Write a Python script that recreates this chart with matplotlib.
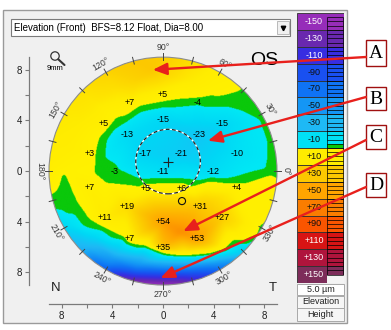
import numpy as np
import matplotlib
matplotlib.use("Agg")
import matplotlib.pyplot as plt
import matplotlib.tri as mtri
from matplotlib.colors import LinearSegmentedColormap, Normalize
from matplotlib.patches import Rectangle, Circle

plt.rcParams['font.family'] = ['Liberation Sans', 'DejaVu Sans']

# readings printed on the map: position in mm, elevation in µm
label_x = [0.0, -2.6, 2.75, -4.65, 0.0, 4.7, -2.85, 2.85, -5.75, -1.4, 1.45, 5.85,
           -3.85, 0.0, 3.95, -5.75, -1.35, 1.5, 5.85, -2.8, 2.9, -4.6, 0.05, 4.7,
           -2.6, 0.05, 2.7]
label_y = [6.05, 5.4, 5.4, 3.75, 4.1, 3.75, 2.85, 2.85, 1.35, 1.4, 1.4, 1.35,
           0.0, 0.0, 0.0, -1.3, -1.4, -1.4, -1.3, -2.8, -2.8, -3.7, -4.0, -3.7,
           -5.35, -6.0, -5.35]
label_val = [5, 7, -4, 5, -15, -15, -13, -23, 3, -17, -21, -10,
             -3, -11, -12, 7, 5, 6, 4, 19, 31, 11, 54, 27,
             7, 35, 53]

# where the colour changes from yellow to green (0 µm) ...
zero_x = [6.08, 2.92, 0.29, -1.82, -3.65, -4.97, -5.37, -4.44, -1.82, 2.13, 6.08, 8.45,
          -7.18, -6.7, -5.92, -4.58, -3.0, -1.42, 0.16, 1.74, 3.31, 4.89, 6.47, 7.5]
zero_y = [6.39, 5.86, 5.6, 5.21, 4.29, 2.71, -0.18, -0.97, -1.24, -1.24, -0.97, -0.18,
          -1.5, -2.53, -3.63, -4.42, -5.2, -5.84, -6.39, -6.63, -6.47, -6.08, -5.45, -5.05]
# ... and from green to cyan (-5 µm)
minus5_x = [-3.13, -1.82, 0.81, 3.45, 6.08, 7.66, 8.2, 8.2, 8.18, 6.08, 2.13, -1.82,
            -4.58, -4.44, -3.92,
            -8.52, -7.73, -6.16, -4.03, -1.97, 0.16, 1.74, 3.31, 4.89, 6.47, 7.81]
minus5_y = [3.76, 4.68, 5.07, 5.07, 4.81, 4.03, 2.45, 0.87, 0.08, -0.32, -0.58, -0.58,
            1.13, 2.45, 3.24,
            -2.45, -3.31, -4.42, -5.29, -6.08, -6.71, -6.79, -6.71, -6.39, -5.84, -5.21]

# values around the rim (r = 9.25 mm), every 15 degrees from 0
rim_angle = np.arange(0, 360, 15)
rim_val = [-2, -3, -3, -1, 6, 18, 28, 30, 24, 16, 12, 10,
           8, -2, -17, -40, -92, -155, -170, -135, -88, -25, -4, 5]

# ring r = 7.6 mm
ring76_angle = [45, 60, 75, 90, 105, 120, 135, 150, 165, 180,
                225, 240, 255, 270, 285, 300]
ring76_val = [-3, 3, 12, 22, 25, 17, 12, 10, 8, 2,
              -18, -32, -48, -55, -38, -5]

# ring r = 8.0 mm, lower part
ring80_angle = [225, 240, 255, 270, 285, 300, 315]
ring80_val = [-25, -48, -70, -85, -65, -22, -4]

# ring r = 8.4 mm, lower half
ring84_angle = [195, 210, 225, 240, 255, 270, 285, 300, 315, 330]
ring84_val = [-3, -10, -30, -58, -95, -110, -92, -48, -10, 3]

# a few more readings: orange crest at top, peak below centre, green tongue on the left
extra_x = [-0.8, 1.4, -7.73, -7.6, -7.6, -8.7, -8.6]
extra_y = [8.0, -4.8, -0.16, -1.2, -2.4, -1.0, 0.4]
extra_val = [30, 62, -1, -3, -4, 3, 6]

# colour scale (µm -> RGB)
scale_pts = [(-180, (135, 40, 170)), (-150, (150, 45, 185)), (-130, (105, 40, 175)),
             (-110, (55, 45, 225)), (-90, (25, 80, 240)), (-70, (15, 115, 245)),
             (-50, (20, 150, 245)), (-30, (30, 185, 245)), (-15, (0, 215, 245)),
             (-5, (0, 232, 245)), (-5, (10, 200, 10)), (0, (10, 200, 10)),
             (0, (255, 242, 0)), (10, (255, 236, 0)), (30, (252, 200, 0)),
             (50, (255, 165, 0)), (70, (250, 125, 0)), (90, (250, 85, 0)),
             (110, (215, 20, 20)), (130, (175, 20, 60)), (150, (125, 45, 90)),
             (180, (115, 45, 85))]
vmin, vmax = -180, 180
cmap = LinearSegmentedColormap.from_list(
    'elev', [((v - vmin) / (vmax - vmin), tuple(c / 255 for c in rgb)) for v, rgb in scale_pts],
    N=2048)
norm = Normalize(vmin, vmax)

box_centres = list(range(-150, 151, 20))


def polar(angles, r):
    a = np.deg2rad(np.asarray(angles, dtype=float))
    return r * np.cos(a), r * np.sin(a)


def smooth(Z, sigma_cells):
    # gaussian blur that ignores the empty cells outside the hull
    vals = Z.filled(np.nan) if np.ma.isMaskedArray(Z) else np.asarray(Z, float)
    ok = ~np.isnan(vals)
    n = int(3 * sigma_cells)
    k = np.exp(-0.5 * (np.arange(-n, n + 1) / sigma_cells) ** 2)
    k /= k.sum()

    def blur(a):
        a = np.apply_along_axis(lambda r: np.convolve(r, k, mode='same'), 0, a)
        return np.apply_along_axis(lambda r: np.convolve(r, k, mode='same'), 1, a)

    num = blur(np.where(ok, vals, 0.0))
    den = blur(ok.astype(float))
    out = np.where(ok, num / np.maximum(den, 1e-9), np.nan)
    return np.ma.masked_invalid(out)


def build_field():
    rings = [(rim_angle, 9.25, rim_val), (ring76_angle, 7.6, ring76_val),
             (ring80_angle, 8.0, ring80_val), (ring84_angle, 8.4, ring84_val)]
    xs = [np.asarray(label_x), np.asarray(zero_x), np.asarray(minus5_x), np.asarray(extra_x)]
    ys = [np.asarray(label_y), np.asarray(zero_y), np.asarray(minus5_y), np.asarray(extra_y)]
    vs = [np.asarray(label_val, float), np.zeros(len(zero_x)), np.full(len(minus5_x), -5.0),
          np.asarray(extra_val, float)]
    for ang, r, val in rings:
        px, py = polar(ang, r)
        xs.append(px)
        ys.append(py)
        vs.append(np.asarray(val, float))
    tri = mtri.Triangulation(np.concatenate(xs), np.concatenate(ys))
    interp = mtri.LinearTriInterpolator(tri, np.concatenate(vs))
    g = np.linspace(-9.2, 9.2, 369)
    X, Y = np.meshgrid(g, g)
    return smooth(interp(X, Y), 3)


fig = plt.figure(figsize=(3.91, 3.30), dpi=100)
fig.patch.set_facecolor('white')

# window background, pixel coordinates
bg = fig.add_axes([0, 0, 1, 1])
bg.set_xlim(0, 391)
bg.set_ylim(330, 0)
bg.axis('off')
bg.set_zorder(0)
bg.add_patch(Rectangle((3, 10), 344, 313, fc='#f0f0f0', ec='#9a9a9a', lw=1))
bg.add_patch(Rectangle((11, 19), 279, 17, fc='white', ec='#7a7a7a', lw=0.8))
bg.add_patch(Rectangle((277, 21), 12, 13, fc='#f0f0f0', ec='#b0b0b0', lw=0.6))
bg.plot([283], [28], marker='v', color='black', markersize=3.2)
bg.text(14, 28, 'Elevation (Front)  BFS=8.12 Float, Dia=8.00', fontsize=7, va='center')
# magnifier icon
bg.add_patch(Circle((55, 56), 4.2, fill=False, ec='#333333', lw=0.9))
bg.plot([58.3, 64.5], [59.3, 65], color='#333333', lw=1.5, solid_capstyle='round')
bg.text(55, 69, '9mm', fontsize=5.5, ha='center', va='center')
# info boxes under the scale
for y0, h, txt, fc in [(284, 11, '5.0 µm', 'white'), (296, 12, 'Elevation', '#f6f6f6'),
                       (308, 13, 'Height', '#f6f6f6')]:
    bg.add_patch(Rectangle((297, y0), 47, h, fc=fc, ec='#a8a8a8', lw=0.7))
    bg.text(320.5, y0 + h / 2, txt, fontsize=6.5, ha='center', va='center', color='#202020')

# map axes in mm
ax = fig.add_axes([11 / 391, 7 / 330, 285 / 391, 276 / 330])
ax.set_zorder(1)
ax.patch.set_visible(False)

Z = build_field()
im = ax.imshow(Z, extent=(-9.2, 9.2, -9.2, 9.2), origin='lower', cmap=cmap, norm=norm,
               interpolation='bilinear', aspect='auto', zorder=1)
rim = Circle((0, 0), 9.0, transform=ax.transData)
im.set_clip_path(rim)
ax.set_xlim(-12, 10.5)
ax.set_ylim(-12, 9.8)
ax.add_patch(Circle((0, 0), 9.0, fill=False, ec='#8c8c8c', lw=0.8, zorder=2))

# rim ticks every 15 degrees
tick_ang = np.deg2rad(np.arange(0, 360, 15))
for a in tick_ang:
    ax.plot([8.75 * np.cos(a), 9.3 * np.cos(a)], [8.75 * np.sin(a), 9.3 * np.sin(a)],
            color='#444444', lw=0.7, zorder=3)
for deg in range(0, 360, 30):
    a = np.deg2rad(deg)
    rot = deg - 90 if deg < 180 else deg - 270
    ax.text(9.75 * np.cos(a), 9.75 * np.sin(a), f'{deg}°', rotation=rot, fontsize=6.3,
            color='#3a3a3a', ha='center', va='center', rotation_mode='anchor')

# printed readings
for x, y, v in zip(label_x, label_y, label_val):
    ax.text(x, y, f'{v:+d}', fontsize=6.5, ha='center', va='center', zorder=4)

# pupil: centre cross, dashed outline, thinnest point marker
pupil_x, pupil_y, pupil_r = 0.4, 0.75, 2.55
ax.add_patch(Circle((pupil_x, pupil_y), pupil_r, fill=False, ec='white', lw=0.9, zorder=3))
ax.add_patch(Circle((pupil_x, pupil_y), pupil_r, fill=False, ec='#222222', lw=0.9,
                    ls=(0, (3, 2)), zorder=3))
ax.plot([pupil_x], [pupil_y], marker='+', color='#222222', markersize=7, mew=0.8, zorder=4)
ax.add_patch(Circle((1.5, -2.37), 0.28, fill=False, ec='#111111', lw=0.8, zorder=4))

ax.text(7.95, 8.75, 'OS', fontsize=14, ha='center', va='center')
ax.text(-8.5, -9.25, 'N', fontsize=9.5, ha='center', va='center', color='#222222')
ax.text(8.7, -9.25, 'T', fontsize=9.5, ha='center', va='center', color='#222222')

# mm axes
for s in ('top', 'right'):
    ax.spines[s].set_visible(False)
ax.spines['left'].set_position(('data', -10.58))
ax.spines['bottom'].set_position(('data', -10.5))
ax.spines['left'].set_bounds(-9, 9)
ax.spines['bottom'].set_bounds(-9, 9)
for s in ('left', 'bottom'):
    ax.spines[s].set_color('#7a7a7a')
    ax.spines[s].set_linewidth(0.9)
ticks = list(range(-8, 9, 2))
tick_text = [str(abs(t)) if t % 4 == 0 else '' for t in ticks]
ax.set_xticks(ticks)
ax.set_xticklabels(tick_text)
ax.set_yticks(ticks)
ax.set_yticklabels(tick_text)
ax.tick_params(direction='out', length=3, width=0.8, color='#7a7a7a', labelsize=7,
               labelcolor='#202020', pad=2)

# colour scale
cb = fig.add_axes([297 / 391, 47 / 330, 47 / 391, 270 / 330])
cb.set_xlim(0, 1)
cb.set_ylim(160, -160)
cb.axis('off')
for c in box_centres:
    cb.add_patch(Rectangle((0, c - 10), 1, 20, fc=cmap(norm(c)), ec='#303030', lw=0.6))
    dark = abs(c) >= 110
    cb.text(0.36, c, f'{c:+d}' if c > 0 else f'{c:d}', fontsize=6.5, ha='center',
            va='center', color='white' if dark else '#101010')
cb.add_patch(Rectangle((0.64, 150), 0.36, 10, fc='#f4f4f4', ec='none'))
cb.add_patch(Rectangle((0.64, -5), 0.34, 5, fc=cmap(norm(-2.5)), ec='none'))
steps = np.arange(-155, 151, 5)
cb.hlines(steps, 0.64, 0.98, color='black', lw=0.5)
cb.vlines([0.64, 0.98], -155, 150, color='black', lw=0.5)

# lettered call-outs
over = fig.add_axes([0, 0, 1, 1])
over.set_xlim(0, 391)
over.set_ylim(330, 0)
over.axis('off')
over.set_zorder(10)
red = '#e8201c'
callouts = [('A', 40, 26, 57, (-0.8, 8.0)), ('B', 87, 23, 97, (3.55, 2.4)),
            ('C', 125, 24, 140, (1.6, -4.75)), ('D', 173, 24, 187, (-0.2, -8.45))]
for letter, top, h, sy, tip in callouts:
    over.add_patch(Rectangle((366, top), 20, h, fc='white', ec='#a01010', lw=1))
    over.text(376, top + h / 2 + 0.5, letter, fontsize=14, ha='center', va='center',
              family=['Liberation Serif', 'DejaVu Serif'])
    over.annotate('', xy=tip, xycoords=ax.transData, xytext=(366, sy), textcoords='data',
                  arrowprops=dict(arrowstyle='-|>,head_length=0.7,head_width=0.3',
                                  color=red, lw=1.7, shrinkA=0, shrinkB=0,
                                  mutation_scale=12))

fig.savefig('out.png', dpi=100)
